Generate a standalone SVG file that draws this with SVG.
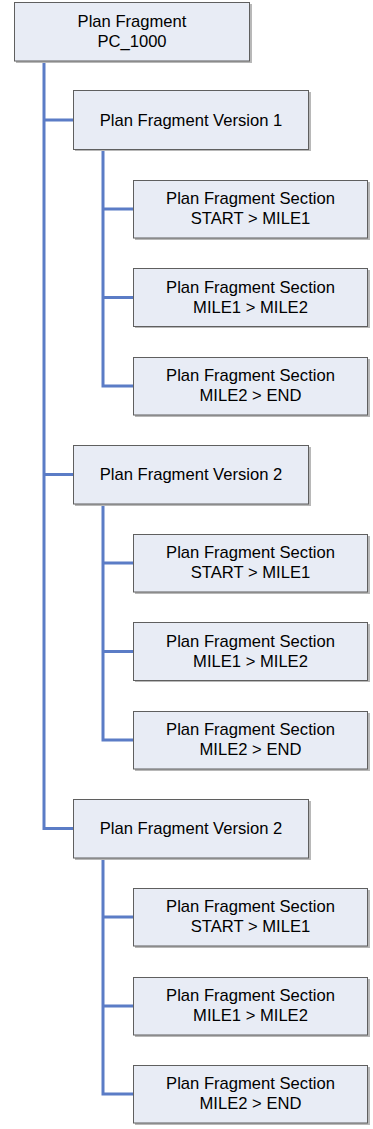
<svg xmlns="http://www.w3.org/2000/svg" width="373" height="1129" viewBox="0 0 373 1129">
<style>
.box{fill:#e8ecf5;stroke:#5f5f5f;stroke-width:1}
.sh{fill:#b8b8b8}
.t{font-family:"Liberation Sans",Arial,sans-serif;font-size:16.6px;fill:#000;text-anchor:middle}
.c{fill:none;stroke:#5b7cc6;stroke-width:3}
</style>
<rect width="373" height="1129" fill="#fff"/>
<g id="connectors">
<path class="c" d="M44 61V828.5H73M44 120H73M44 474.5H73"/>
<path class="c" d="M103 150V386H133M103 209H133M103 297.5H133"/>
<path class="c" d="M103 504V740H133M103 563H133M103 651.5H133"/>
<path class="c" d="M103 858V1094H133M103 917H133M103 1006H133"/>
</g>
<g id="root"><rect class="sh" x="16" y="4" width="236" height="59"/><rect class="box" x="14.5" y="2.5" width="235" height="58.5"/><text class="t" x="132" y="27">Plan Fragment</text><text class="t" x="132" y="47">PC_1000</text></g>
<g id="v1"><rect class="sh" x="75" y="92" width="236" height="59"/><rect class="box" x="73.5" y="90.5" width="235" height="59"/><text class="t" x="191" y="125.5">Plan Fragment Version 1</text></g>
<g id="v1s1"><rect class="sh" x="135" y="182" width="235" height="58"/><rect class="box" x="133.5" y="180.5" width="234" height="57.5"/><text class="t" x="250.5" y="204">Plan Fragment Section</text><text class="t" x="250.5" y="224">START &gt; MILE1</text></g>
<g id="v1s2"><rect class="sh" x="135" y="270" width="235" height="58"/><rect class="box" x="133.5" y="268.5" width="234" height="58"/><text class="t" x="250.5" y="292.5">Plan Fragment Section</text><text class="t" x="250.5" y="312.5">MILE1 &gt; MILE2</text></g>
<g id="v1s3"><rect class="sh" x="135" y="359" width="235" height="58"/><rect class="box" x="133.5" y="357.5" width="234" height="57.5"/><text class="t" x="250.5" y="381">Plan Fragment Section</text><text class="t" x="250.5" y="401">MILE2 &gt; END</text></g>
<g id="v2"><rect class="sh" x="75" y="447" width="236" height="59"/><rect class="box" x="73.5" y="445.5" width="235" height="58.5"/><text class="t" x="191" y="480">Plan Fragment Version 2</text></g>
<g id="v2s1"><rect class="sh" x="135" y="536" width="235" height="58"/><rect class="box" x="133.5" y="534.5" width="234" height="57.5"/><text class="t" x="250.5" y="558">Plan Fragment Section</text><text class="t" x="250.5" y="578">START &gt; MILE1</text></g>
<g id="v2s2"><rect class="sh" x="135" y="624" width="235" height="58"/><rect class="box" x="133.5" y="622.5" width="234" height="58"/><text class="t" x="250.5" y="646.5">Plan Fragment Section</text><text class="t" x="250.5" y="666.5">MILE1 &gt; MILE2</text></g>
<g id="v2s3"><rect class="sh" x="135" y="713" width="235" height="58"/><rect class="box" x="133.5" y="711.5" width="234" height="57.5"/><text class="t" x="250.5" y="735">Plan Fragment Section</text><text class="t" x="250.5" y="755">MILE2 &gt; END</text></g>
<g id="v3"><rect class="sh" x="75" y="801" width="236" height="59"/><rect class="box" x="73.5" y="799.5" width="235" height="58.5"/><text class="t" x="191" y="834">Plan Fragment Version 2</text></g>
<g id="v3s1"><rect class="sh" x="135" y="890" width="235" height="58"/><rect class="box" x="133.5" y="888.5" width="234" height="57.5"/><text class="t" x="250.5" y="912">Plan Fragment Section</text><text class="t" x="250.5" y="932">START &gt; MILE1</text></g>
<g id="v3s2"><rect class="sh" x="135" y="979" width="235" height="58"/><rect class="box" x="133.5" y="977.5" width="234" height="57.5"/><text class="t" x="250.5" y="1001">Plan Fragment Section</text><text class="t" x="250.5" y="1021">MILE1 &gt; MILE2</text></g>
<g id="v3s3"><rect class="sh" x="135" y="1067" width="235" height="58"/><rect class="box" x="133.5" y="1065.5" width="234" height="57.5"/><text class="t" x="250.5" y="1089">Plan Fragment Section</text><text class="t" x="250.5" y="1109">MILE2 &gt; END</text></g>
</svg>
